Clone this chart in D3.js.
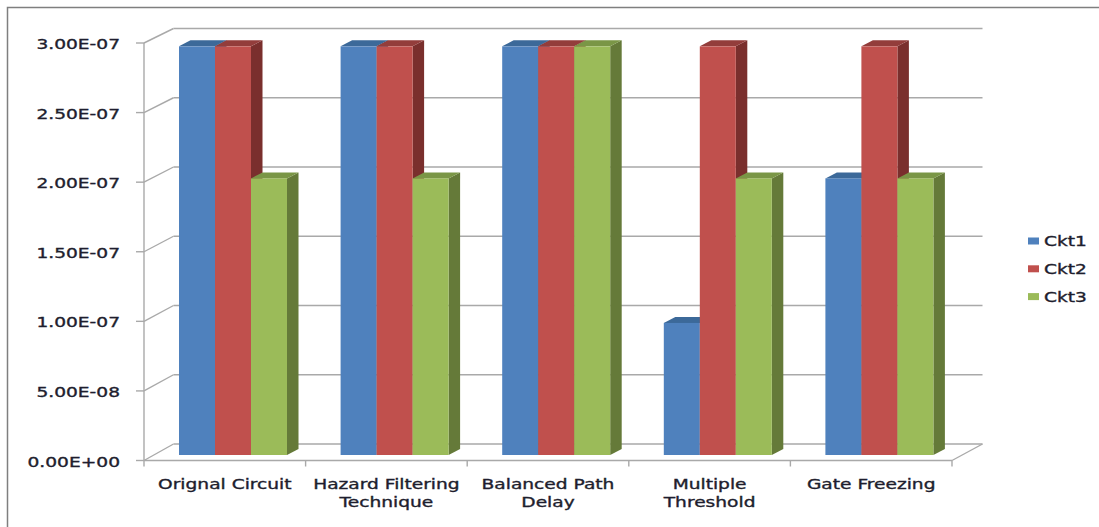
<!DOCTYPE html>
<html>
<head>
<meta charset="utf-8">
<script src="https://cdn.jsdelivr.net/npm/d3@7"></script>
<style>
html,body{margin:0;padding:0;background:#fff;}
svg{display:block;}
text{font-family:"DejaVu Sans",sans-serif;fill:#1e1e2e;stroke:#1e1e2e;stroke-width:0.35px;}
</style>
</head>
<body>
<svg id="chart" width="1099" height="527"></svg>
<script>
// ---- data ----
const categories = ["Orignal Circuit","Hazard Filtering Technique","Balanced Path Delay","Multiple Threshold","Gate Freezing"];
const categoryLines = [["Orignal Circuit"],["Hazard Filtering","Technique"],["Balanced Path","Delay"],["Multiple","Threshold"],["Gate Freezing"]];
const seriesNames = ["Ckt1","Ckt2","Ckt3"];
const ckt1 = [2.94e-7, 2.94e-7, 2.94e-7, 9.5e-8, 1.99e-7];
const ckt2 = [2.94e-7, 2.94e-7, 2.94e-7, 2.94e-7, 2.94e-7];
const ckt3 = [1.99e-7, 1.99e-7, 2.94e-7, 1.99e-7, 1.99e-7];
const yTicks = [0, 5e-8, 1e-7, 1.5e-7, 2e-7, 2.5e-7, 3e-7];
const yTickLabels = ["0.00E+00","5.00E-08","1.00E-07","1.50E-07","2.00E-07","2.50E-07","3.00E-07"];

const seriesValues = [ckt1, ckt2, ckt3];
const frontColors = ["#4F81BD","#C0504D","#9BBB59"];
const topColors   = ["#3C6999","#933D3B","#7A9646"];
const sideColors  = ["#34577F","#7A2F2D","#657A39"];

const svg = d3.select("#chart");
const SX = 1.38; // horizontal stretch of the text
const fs = 13.5;

// outer border
svg.append("rect").attr("x",7.5).attr("y",7.5).attr("width",1100).attr("height",530)
  .attr("fill","none").attr("stroke","#7f7f7f").attr("stroke-width",1.5);

// scales
const x = d3.scaleBand().domain(categories).range([144, 952]).padding(0);
const xs = d3.scaleBand().domain(seriesNames).range([35, 143]).padding(0);
const yFront = d3.scaleLinear().domain([0,3e-7]).range([460.5, 43]);
const yBack  = d3.scaleLinear().domain([0,3e-7]).range([444, 28.5]);
const yBar   = d3.scaleLinear().domain([0,3e-7]).range([455, 38]);
const depthX = 29.5;          // wall depth offset
const barDX = 11.5, barDY = -6; // bar depth offset

const grid = svg.append("g").attr("stroke","#a9a9a9").attr("stroke-width",1.4).attr("fill","none");
// back wall gridlines + diagonal connectors on the left wall
yTicks.forEach(t => {
  grid.append("line").attr("x1",144+depthX).attr("x2",982.5).attr("y1",yBack(t)).attr("y2",yBack(t));
  grid.append("line").attr("x1",144).attr("y1",yFront(t)).attr("x2",144+depthX).attr("y2",yBack(t));
  grid.append("line").attr("x1",136).attr("x2",144).attr("y1",yFront(t)).attr("y2",yFront(t));
});
// front vertical axis
grid.append("line").attr("x1",144).attr("x2",144).attr("y1",yFront(3e-7)).attr("y2",yFront(0));
// floor front edge + right diagonal
grid.append("line").attr("x1",144).attr("x2",952).attr("y1",yFront(0)).attr("y2",yFront(0));
grid.append("line").attr("x1",952).attr("y1",yFront(0)).attr("x2",952+depthX+1).attr("y2",yBack(0));
// category ticks
const bounds = categories.map(c => x(c)).concat([x(categories[categories.length-1]) + x.bandwidth()]);
bounds.forEach(b => {
  grid.append("line").attr("x1",b).attr("x2",b).attr("y1",yFront(0)).attr("y2",yFront(0)+6);
});

// bars
const bars = svg.append("g");
categories.forEach((c, ci) => {
  seriesNames.forEach((s, si) => {
    const v = seriesValues[si][ci];
    const x0 = x(c) + xs(s), w = xs.bandwidth();
    const yt = yBar(v), yb = yBar(0);
    bars.append("path").attr("fill", sideColors[si])
      .attr("d", `M${x0+w},${yt}L${x0+w+barDX},${yt+barDY}L${x0+w+barDX},${yb+barDY}L${x0+w},${yb}Z`);
    bars.append("path").attr("fill", topColors[si])
      .attr("d", `M${x0},${yt}L${x0+barDX},${yt+barDY}L${x0+w+barDX},${yt+barDY}L${x0+w},${yt}Z`);
    bars.append("rect").attr("fill", frontColors[si])
      .attr("x", x0).attr("y", yt).attr("width", w).attr("height", yb - yt);
  });
});

// y tick labels
const yl = svg.append("g");
yTicks.forEach((t, i) => {
  yl.append("text").attr("transform", `translate(120,${yFront(t)+1.5}) scale(${SX},1)`)
    .attr("text-anchor","end").attr("dominant-baseline","central")
    .style("font-size", fs+"px").text(yTickLabels[i]);
});

// category labels
const xl = svg.append("g");
categories.forEach((c, ci) => {
  categoryLines[ci].forEach((ln, li) => {
    xl.append("text").attr("transform", `translate(${x(c)+x.bandwidth()/2},${489+li*18}) scale(${SX},1)`)
      .attr("text-anchor","middle").style("font-size", fs+"px").text(ln);
  });
});

// legend
const lg = svg.append("g");
seriesNames.forEach((s, si) => {
  const cy = 241 + si*27.8;
  lg.append("rect").attr("x",1028).attr("y",cy-3.5).attr("width",11).attr("height",7).attr("fill",frontColors[si]);
  lg.append("text").attr("transform", `translate(1044,${cy+0.5}) scale(${SX},1)`)
    .attr("dominant-baseline","central").style("font-size", fs+"px").text(s);
});
</script>
</body>
</html>
